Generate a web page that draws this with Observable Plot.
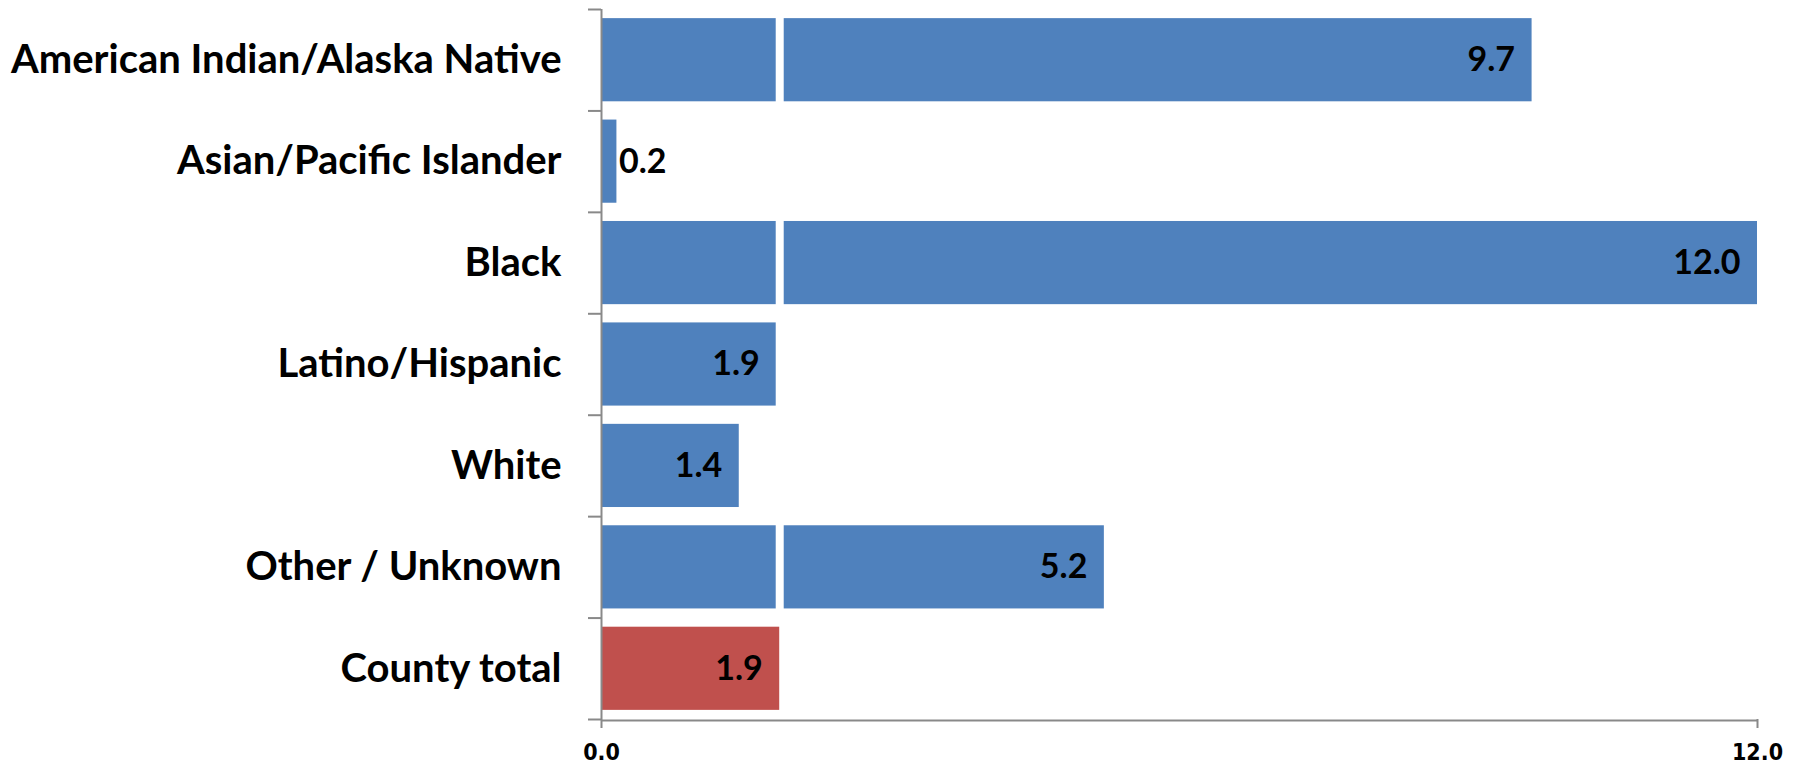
<!DOCTYPE html>
<html>
<head>
<meta charset="utf-8">
<script src="https://cdn.jsdelivr.net/npm/d3@7"></script>
<script src="https://cdn.jsdelivr.net/npm/@observablehq/plot@0.6"></script>
<style>
  html, body { margin: 0; padding: 0; background: #fff; }
  #chart svg { display: block; }
</style>
</head>
<body>
<div id="chart"></div>
<script>
const categories = [
  "American Indian/Alaska Native",
  "Asian/Pacific Islander",
  "Black",
  "Latino/Hispanic",
  "White",
  "Other / Unknown",
  "County total"
];
const values = [9.66, 0.16, 12.0, 1.82, 1.43, 5.22, 1.85];
const valueLabels = ["9.7", "0.2", "12.0", "1.9", "1.4", "5.2", "1.9"];
const isTotal = [false, false, false, false, false, false, true];
const countyLine = 1.85;
const xTicks = [0, 12];
const xTickLabels = ["0.0", "12.0"];

const rows = categories.map((c, i) => ({
  category: c, i, value: values[i], label: valueLabels[i], total: isTotal[i]
}));
const groupRows = rows.filter(d => !d.total);
const totalRows = rows.filter(d => d.total);
const boundaries = d3.range(0, categories.length + 1);

const BLUE = "#4F81BD";
const RED = "#C0504D";
const GRAY = "#898989";
const pad = 0.09;

const plot = Plot.plot({
  width: 1799,
  height: 764,
  marginLeft: 601,
  marginRight: 42,
  marginTop: 9,
  marginBottom: 45,
  style: { fontFamily: "Lato, sans-serif", background: "white", overflow: "visible" },
  x: { domain: [0, 12], axis: null },
  y: { domain: [0, 7], reverse: true, axis: null },
  marks: [
    Plot.rectX(groupRows, {
      x1: 0, x2: "value", y1: d => d.i + pad, y2: d => d.i + 1 - pad, fill: BLUE
    }),
    Plot.ruleX([countyLine], { y1: 0, y2: 7, stroke: "white", strokeWidth: 8 }),
    Plot.rectX(totalRows, {
      x1: 0, x2: "value", y1: d => d.i + pad, y2: d => d.i + 1 - pad, fill: RED
    }),
    // y axis: boundary ticks pointing left, and the axis line
    Plot.axisY({
      ticks: boundaries, tickSize: 13, tickFormat: () => "", label: null,
      stroke: GRAY, strokeWidth: 2
    }),
    Plot.ruleX([0], { y1: 0, y2: 7, stroke: GRAY, strokeWidth: 2 }),
    // x axis line and ticks
    Plot.ruleY([7], { x1: 0, x2: 12, stroke: GRAY, strokeWidth: 2, dy: 1 }),
    Plot.axisX({
      ticks: xTicks, tickSize: 9, tickPadding: 15, stroke: GRAY, strokeWidth: 2,
      label: null,
      tickFormat: (d) => xTickLabels[xTicks.indexOf(d)],
      fontSize: 23, fontWeight: "bold", fill: "black",
      fontFamily: "'Liberation Sans Narrow', 'DejaVu Sans Condensed', sans-serif"
    }),
    // category labels
    Plot.text(rows, {
      x: 0, y: d => d.i + 0.5, text: "category", textAnchor: "end", dx: -40,
      fontSize: 40, fontWeight: "bold", fill: "black"
    }),
    // value labels
    Plot.text(rows.filter(d => d.value >= 1), {
      x: "value", y: d => d.i + 0.5, text: "label", textAnchor: "end", dx: -17,
      fontSize: 34, fontWeight: "bold", fill: "black"
    }),
    Plot.text(rows.filter(d => d.value < 1), {
      x: "value", y: d => d.i + 0.5, text: "label", textAnchor: "start", dx: 2,
      fontSize: 34, fontWeight: "bold", fill: "black"
    })
  ]
});

document.getElementById("chart").appendChild(plot);
</script>
</body>
</html>
